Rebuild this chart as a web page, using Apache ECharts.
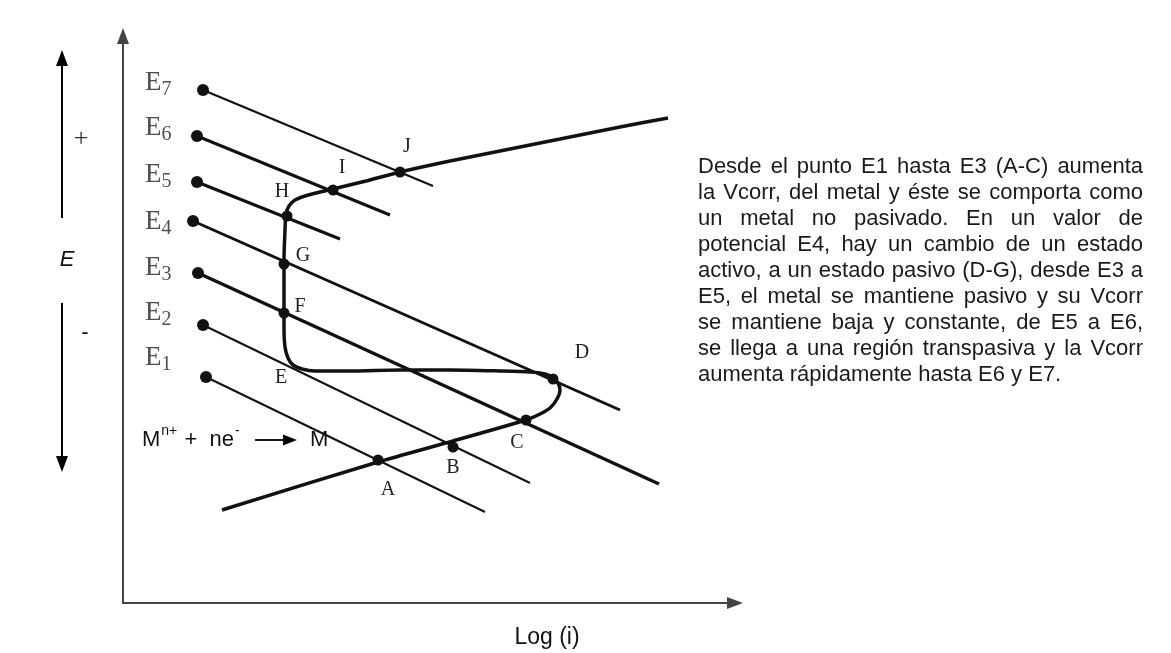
<!DOCTYPE html>
<html><head><meta charset="utf-8">
<script src="https://cdn.jsdelivr.net/npm/echarts@6/dist/echarts.min.js"></script>
<style>html,body{margin:0;padding:0;background:#fff}#c{width:1171px;height:653px}</style>
</head><body><div id="c"></div>
<script>
// ---- data (schematic units: x = log(i), y = potential E) ----
const potentialNames = ['1', '2', '3', '4', '5', '6', '7'];
const lineStartX = [83, 80, 75, 70, 74, 74, 80];
const lineStartY = [226, 278, 330, 382, 421, 467, 513];
const lineEndX   = [362, 407, 536, 497, 217, 267, 310];
const lineEndY   = [91, 120, 119, 193, 364, 388, 417];
const potentialLabelY = [245, 290, 335, 381, 428, 475, 520];
const potentialLabelX = 17;

const curveX = [99, 255, 330, 403, 417, 427, 434, 437, 435, 430, 422, 407, 377, 327, 277, 227, 192, 179, 170, 165, 162, 161, 161, 161, 162, 163, 166, 172, 182, 210, 243, 277, 327, 377, 437, 497, 545];
const curveY = [93, 141, 162, 183, 189, 195, 204, 213, 220, 225, 229, 231, 232, 233, 233, 232, 232, 234, 238, 245, 256, 273, 303, 343, 373, 389, 397, 403, 407, 414, 422, 431, 442, 452, 464, 476, 485];

const pointNames = ['A', 'B', 'C', 'D', 'E', 'F', 'G', 'H', 'I', 'J'];
const pointX = [255, 330, 403, 430, 177, 161, 161, 164, 210, 277];
const pointY = [143, 156, 183, 224, 233, 290, 339, 387, 413, 431];
const pointHasDot = [true, true, true, true, false, true, true, true, true, true];

const noteLines = [
  'Desde el punto E1 hasta E3 (A-C) aumenta',
  'la Vcorr, del metal y éste se comporta como',
  'un metal no pasivado. En un valor de',
  'potencial E4, hay un cambio de un estado',
  'activo, a un estado pasivo (D-G), desde E3 a',
  'E5, el metal se mantiene pasivo y su Vcorr',
  'se mantiene baja y constante, de E5 a E6,',
  'se llega a una región transpasiva y la Vcorr',
  'aumenta rápidamente hasta E6 y E7.'
];

// ---- styles / layout ----
const lineWidths = [2, 2, 3.5, 3, 3, 3, 2.2];
const pointLabelOffsets = [[10, 30], [0, 21], [-9, 23], [29, -26], [-19, 8], [16, -6], [19, -8], [-5, -24], [9, -22], [7, -25]];
const INK = '#111';
const SERIF = '"Liberation Serif", "DejaVu Serif", serif';
const SANS = '"Liberation Sans", Arial, sans-serif';

const chart = echarts.init(document.getElementById('c'), null, {renderer: 'canvas'});

const series = [];
potentialNames.forEach((n, i) => {
  series.push({
    type: 'line', z: 2,
    data: [[lineStartX[i], lineStartY[i]], [lineEndX[i], lineEndY[i]]],
    symbol: 'circle',
    symbolSize: (v, p) => p.dataIndex === 0 ? 12 : 0,
    showSymbol: true,
    itemStyle: {color: INK},
    lineStyle: {color: INK, width: lineWidths[i]},
    silent: true
  });
});
series.push({
  type: 'scatter', z: 5, symbolSize: 0,
  data: potentialLabelY.map((y, i) => [potentialLabelX, y, potentialNames[i]]),
  label: {
    show: true, position: 'right', distance: 5,
    formatter: p => '{e|E}{s|' + p.value[2] + '}',
    rich: {
      e: {fontFamily: SERIF, fontSize: 27, color: '#222'},
      s: {fontFamily: SERIF, fontSize: 20, color: '#222', padding: [13, 0, 0, 0]}
    }
  }
});
series.push({
  type: 'line', z: 3,
  data: curveX.map((x, i) => [x, curveY[i]]),
  showSymbol: false, smooth: 0.25,
  lineStyle: {color: INK, width: 3.5},
  silent: true
});
series.push({
  type: 'scatter', z: 6,
  data: pointNames.map((n, i) => ({
    value: [pointX[i], pointY[i]],
    name: n,
    symbolSize: pointHasDot[i] ? 11 : 0,
    label: {offset: pointLabelOffsets[i]}
  })),
  itemStyle: {color: INK, opacity: 1},
  label: {
    show: true, position: 'inside', formatter: p => p.name,
    fontFamily: SERIF, fontSize: 20, color: '#222'
  }
});

// justified paragraph
const paraFontSize = 22;
const paraLeft = 698, paraRight = 1143, paraTop = 167, paraStep = 26;
const mctx = document.createElement('canvas').getContext('2d');
mctx.font = paraFontSize + 'px "Liberation Sans"';
const paraEls = [];
noteLines.forEach((line, li) => {
  const words = line.split(' ');
  const ws = words.map(w => mctx.measureText(w).width);
  const total = ws.reduce((a, b) => a + b, 0);
  const last = li === noteLines.length - 1;
  const gap = last ? mctx.measureText(' ').width : (paraRight - paraLeft - total) / (words.length - 1);
  let x = paraLeft;
  words.forEach((w, wi) => {
    paraEls.push({
      type: 'text', x: x, y: paraTop + li * paraStep,
      style: {text: w, fontSize: paraFontSize, fontFamily: 'Liberation Sans', fill: '#1a1a1a', verticalAlign: 'middle', align: 'left'}
    });
    x += ws[wi] + gap;
  });
});

const graphics = [
  // left E direction arrows
  {type: 'line', shape: {x1: 62, y1: 218, x2: 62, y2: 62}, style: {stroke: '#000', lineWidth: 2}},
  {type: 'polygon', shape: {points: [[62, 50], [56, 66], [68, 66]]}, style: {fill: '#000'}},
  {type: 'line', shape: {x1: 62, y1: 303, x2: 62, y2: 458}, style: {stroke: '#000', lineWidth: 2}},
  {type: 'polygon', shape: {points: [[62, 472], [56, 456], [68, 456]]}, style: {fill: '#000'}},
  {type: 'text', x: 81, y: 139, style: {text: '+', fontSize: 26, fontFamily: 'Liberation Serif', fill: '#333', align: 'center', verticalAlign: 'middle'}},
  {type: 'text', x: 67, y: 260, style: {text: 'E', fontSize: 22, fontStyle: 'italic', fontFamily: 'Liberation Sans', fill: '#111', align: 'center', verticalAlign: 'middle'}},
  {type: 'text', x: 85, y: 333, style: {text: '-', fontSize: 22, fontFamily: 'Liberation Sans', fill: '#111', align: 'center', verticalAlign: 'middle'}},
  // reaction
  {type: 'text', x: 142, y: 440, style: {
    text: '{b|M}{sp|n+}{b| +  ne}{sp|-}', align: 'left', verticalAlign: 'middle',
    rich: {
      b: {fontSize: 22, fontFamily: 'Liberation Sans', fill: '#111'},
      sp: {fontSize: 14, fontFamily: 'Liberation Sans', fill: '#111', padding: [0, 1, 18, 1]}
    }
  }},
  {type: 'line', shape: {x1: 255, y1: 440, x2: 286, y2: 440}, style: {stroke: '#000', lineWidth: 1.8}},
  {type: 'polygon', shape: {points: [[297, 440], [283, 434.5], [283, 445.5]]}, style: {fill: '#000'}},
  {type: 'text', x: 310, y: 440, style: {text: 'M', fontSize: 22, fontFamily: 'Liberation Sans', fill: '#111', align: 'left', verticalAlign: 'middle'}},
  // axis title
  {type: 'text', x: 547, y: 638, style: {text: 'Log (i)', fontSize: 23, fontFamily: 'Liberation Sans', fill: '#111', align: 'center', verticalAlign: 'middle'}}
].concat(paraEls);

chart.setOption({
  animation: false,
  backgroundColor: '#fff',
  grid: {left: 123, top: 36, right: 436, bottom: 50, containLabel: false},
  xAxis: {
    type: 'value', min: 0, max: 612,
    axisLine: {show: true, onZero: false, symbol: ['none', 'triangle'], symbolSize: [12, 16], lineStyle: {color: '#444', width: 2}},
    axisTick: {show: false}, axisLabel: {show: false}, splitLine: {show: false}
  },
  yAxis: {
    type: 'value', min: 0, max: 567,
    axisLine: {show: true, onZero: false, symbol: ['none', 'triangle'], symbolSize: [12, 16], lineStyle: {color: '#444', width: 2}},
    axisTick: {show: false}, axisLabel: {show: false}, splitLine: {show: false}
  },
  series: series,
  graphic: graphics
});
</script></body></html>
